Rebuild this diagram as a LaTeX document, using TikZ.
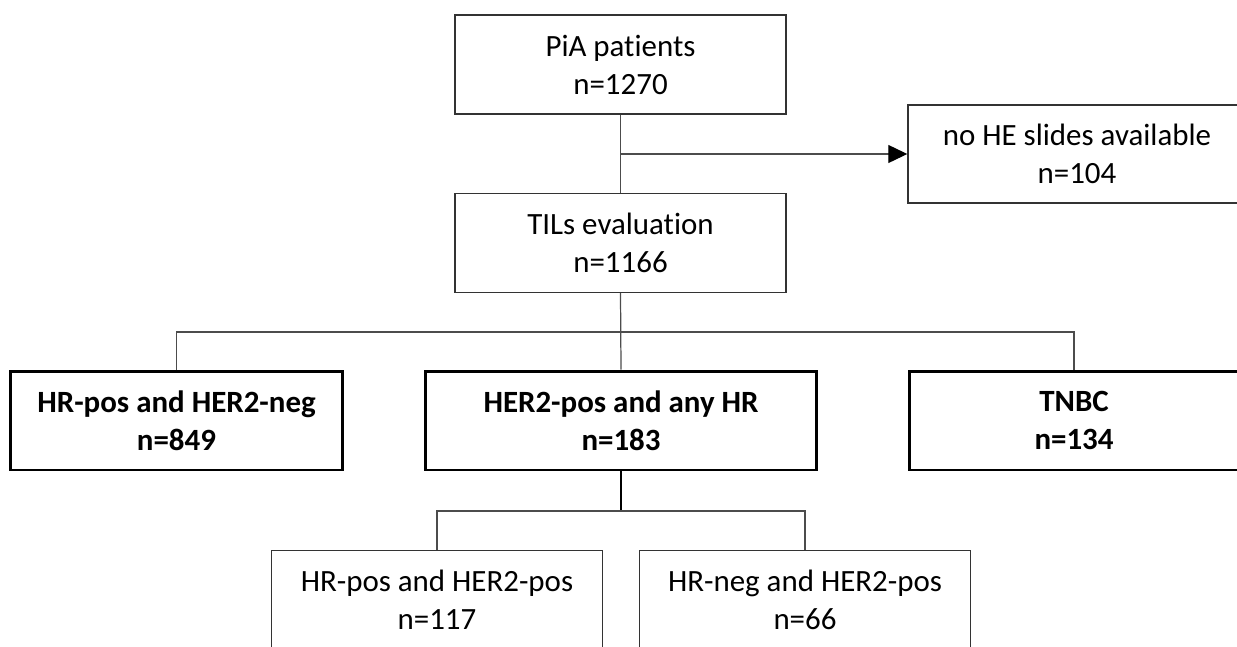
\documentclass[tikz,border=0pt]{standalone}
\usepackage{fontspec}
\setmainfont{Carlito}[RawFeature=-liga]
\usepackage{tikz}
\usetikzlibrary{arrows.meta, positioning, calc}
\tikzset{
  stagebox/.style={
    rectangle, draw=black!80, line width=0.85pt, fill=white,
    minimum width=6.62cm, minimum height=1.98cm,
    align=center, text=black,
    font=\fontsize{17.6}{21.6}\selectfont
  },
  groupbox/.style={
    stagebox, draw=black, line width=1.7pt,
    font=\fontsize{17.6}{21.6}\selectfont\bfseries
  },
  linkline/.style={draw=black!70, line width=0.7pt},
  trunkline/.style={draw=black, line width=1.5pt},
  droparrow/.style={linkline, -{Triangle[length=0.38cm, width=0.36cm, color=black]}},
}
\begin{document}
\begin{tikzpicture}[x=0.02cm, y=-0.02cm]
  \useasboundingbox (0,0) rectangle (1237,646);
  \clip (0,0) rectangle (1237,646);
  % cohort and exclusion
  \node[stagebox](pia) at (620.5,64.5) {PiA patients\\n=1270};
  \node[stagebox, minimum width=6.76cm, minimum height=1.96cm](nohe) at (1077,154) {no HE slides available\\n=104};
  \node[stagebox](tils) at (620.5,243) {TILs evaluation\\n=1166};
  % subtypes
  \node[groupbox, minimum width=6.66cm](hrneg) at (176.5,420.5) {HR-pos and HER2-neg\\n=849};
  \node[groupbox, minimum width=7.84cm](her2) at (621,420.5) {HER2-pos and any HR\\n=183};
  \node[groupbox, minimum width=6.6cm](tnbc) at (1074,420.5) {TNBC\\n=134};
  % HER2 split
  \node[stagebox](hrpos) at (437,600) {HR-pos and HER2-pos\\n=117};
  \node[stagebox](hrnegpos) at (805,600) {HR-neg and HER2-pos\\n=66};
  \coordinate (j1) at (pia.south |- nohe.west);
  \coordinate (j2) at (620.5,332);
  \coordinate (j3) at (621,511);
  \draw[linkline](pia.south)--(tils.north);
  \draw[droparrow](j1)--(nohe.west);
  \draw[linkline](tils.south)--(her2.north);
  \draw[linkline](hrneg.north)|-(j2)-|(tnbc.north);
  \draw[trunkline](her2.south)--(j3);
  \draw[linkline](hrpos.north)|-(j3)-|(hrnegpos.north);
\end{tikzpicture}
\end{document}
